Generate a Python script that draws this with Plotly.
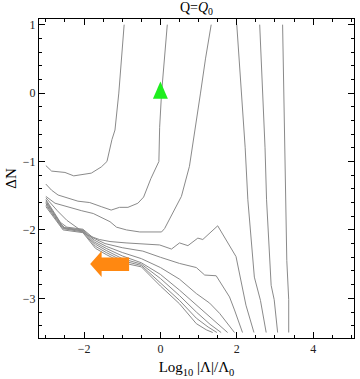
import plotly.graph_objects as go

# contour lines (x = log10 |Lambda|/Lambda0, y = Delta N)
a_x = [-0.95, -1.02, -1.09, -1.19, -1.27, -1.40, -1.55, -1.81, -2.05, -2.27, -2.50, -2.85, -3.0]
a_y = [1.0, 0.5, 0.0, -0.54, -0.68, -1.0, -1.08, -1.17, -1.19, -1.21, -1.16, -1.14, -1.06]

b_x = [0.18, 0.10, 0.03, -0.02, -0.04, -0.25, -0.44, -0.59, -0.85, -1.07, -1.29, -1.55, -1.85, -2.16, -2.33, -2.68, -2.85, -3.0]
b_y = [1.0, 0.5, 0.0, -0.5, -1.0, -1.25, -1.52, -1.61, -1.67, -1.67, -1.71, -1.66, -1.60, -1.58, -1.55, -1.49, -1.42, -1.33]

c_x = [1.33, 1.18, 1.05, 0.89, 0.76, 0.55, 0.11, 0.03, -0.54, -0.89, -1.15, -1.32, -1.76, -2.06, -2.50, -2.76, -3.0]
c_y = [1.0, 0.5, 0.0, -0.58, -1.07, -1.51, -1.98, -2.03, -2.03, -2.0, -1.96, -1.88, -1.76, -1.72, -1.65, -1.61, -1.51]

d_x = [-3.0, -2.7, -2.45, -2.2, -1.9, -1.6, -1.32, -0.9, -0.4, -0.02, 0.29, 0.50, 0.72, 0.98, 1.11, 1.50, 1.98, 2.07, 2.24, 2.45]
d_y = [-1.53, -1.72, -1.86, -1.96, -2.08, -2.14, -2.17, -2.19, -2.21, -2.22, -2.28, -2.19, -2.23, -2.12, -2.14, -1.94, -2.39, -2.64, -3.10, -3.5]

l1_x = [-3.0, -2.62, -2.45, -2.03, -1.75, -1.45, -1.0, -0.46, 0.0, 0.5, 0.94, 1.16, 1.46, 1.81, 1.94, 2.15]
l1_y = [-1.555, -1.89, -1.96, -1.99, -2.12, -2.20, -2.26, -2.31, -2.40, -2.49, -2.55, -2.66, -2.67, -2.98, -3.17, -3.5]

l2_x = [-3.0, -2.6, -2.5, -2.03, -1.73, -1.42, -1.0, -0.5, 0.0, 0.5, 0.94, 1.29, 1.55, 1.94]
l2_y = [-1.575, -1.92, -1.97, -2.0, -2.15, -2.24, -2.33, -2.42, -2.55, -2.72, -2.93, -3.07, -3.22, -3.5]

l3_x = [-3.0, -2.58, -2.52, -2.03, -1.72, -1.42, -1.0, -0.5, 0.0, 0.5, 0.94, 1.3, 1.76]
l3_y = [-1.595, -1.94, -1.98, -2.01, -2.18, -2.27, -2.38, -2.48, -2.65, -2.88, -3.10, -3.27, -3.5]

l4_x = [-3.0, -2.57, -2.03, -1.7, -1.42, -1.0, -0.5, 0.0, 0.5, 0.94, 1.3, 1.59]
l4_y = [-1.615, -1.96, -2.02, -2.21, -2.30, -2.42, -2.50, -2.71, -2.96, -3.2, -3.38, -3.5]

l5_x = [-3.0, -2.56, -2.03, -1.7, -1.42, -1.0, -0.5, 0.0, 0.5, 0.94, 1.25, 1.48]
l5_y = [-1.635, -1.98, -2.03, -2.24, -2.33, -2.45, -2.52, -2.77, -3.03, -3.29, -3.42, -3.5]

l6_x = [-3.0, -2.55, -2.03, -1.7, -1.42, -1.0, -0.5, 0.0, 0.5, 0.94, 1.2, 1.37]
l6_y = [-1.66, -2.0, -2.04, -2.27, -2.36, -2.48, -2.54, -2.82, -3.08, -3.37, -3.46, -3.5]

e1_x = [2.0, 2.12, 2.22, 2.29, 2.37, 2.46, 2.62, 2.77]
e1_y = [1.0, 0.0, -0.8, -1.56, -2.15, -2.69, -3.03, -3.5]

e2_x = [2.6, 2.68, 2.74, 2.78, 2.85, 2.9, 2.98, 3.07]
e2_y = [1.0, 0.0, -0.8, -1.56, -2.29, -2.81, -3.02, -3.5]

e3_x = [3.2, 3.23, 3.26, 3.29, 3.31, 3.36, 3.36]
e3_y = [1.0, 0.0, -0.8, -1.56, -2.45, -3.02, -3.5]

contours = [(a_x, a_y), (b_x, b_y), (c_x, c_y), (d_x, d_y), (l1_x, l1_y), (l2_x, l2_y),
            (l3_x, l3_y), (l4_x, l4_y), (l5_x, l5_y), (l6_x, l6_y),
            (e1_x, e1_y), (e2_x, e2_y), (e3_x, e3_y)]

# markers: green triangle at (0, 0) and orange arrow pointing left
tri_x = [-0.196, 0.0, 0.196, -0.196]
tri_y = [-0.083, 0.17, -0.083, -0.083]
arrow_x = [-1.84, -1.54, -1.54, -0.82, -0.82, -1.54, -1.54, -1.84]
arrow_y = [-2.50, -2.31, -2.405, -2.405, -2.60, -2.60, -2.69, -2.50]

fig = go.Figure()
for cx, cy in contours:
    fig.add_trace(go.Scatter(x=cx, y=cy, mode='lines', line=dict(color='#8a8a8a', width=1),
                             hoverinfo='skip', showlegend=False))

fig.add_trace(go.Scatter(x=tri_x, y=tri_y, mode='lines', fill='toself', fillcolor='#1EEE1E',
                         line=dict(color='#1EEE1E', width=0), hoverinfo='skip', showlegend=False))
fig.add_trace(go.Scatter(x=arrow_x, y=arrow_y, mode='lines', fill='toself', fillcolor='#FF8811',
                         line=dict(color='#FF8811', width=0), hoverinfo='skip', showlegend=False))

font = "Liberation Serif, Times New Roman, serif"
axis = dict(showgrid=False, zeroline=False, showline=True, linecolor='black', linewidth=1,
            mirror='ticks', ticks='inside', ticklen=6, tickcolor='black', automargin=False,
            tickfont=dict(family=font, size=12, color='#222'))

fig.update_layout(
    width=360, height=379,
    margin=dict(l=39, r=6, t=19, b=41),
    plot_bgcolor='white', paper_bgcolor='white',
    title=dict(text='Q=<i>Q</i><sub>0</sub>', xref='paper', x=0.5, xanchor='center',
               yref='container', y=0.993, yanchor='top',
               font=dict(family=font, size=14, color='black')),
    xaxis=dict(axis, range=[-3.18, 5.07], tickvals=[-2, 0, 2, 4], ticktext=['\u22122', '0', '2', '4'],
               minor=dict(ticks='inside', dtick=0.5, ticklen=3, tickcolor='black'),
               title=dict(text='Log<sub>10</sub> |\u039b|/\u039b<sub>0</sub>', standoff=6,
                          font=dict(family=font, size=15, color='black'))),
    yaxis=dict(axis, range=[-3.58, 1.083], tickvals=[1, 0, -1, -2, -3],
               ticktext=['1', '0', '\u22121', '\u22122', '\u22123'],
               minor=dict(ticks='inside', dtick=0.2, ticklen=3, tickcolor='black'),
               title=dict(text='\u0394N', standoff=2, font=dict(family=font, size=15, color='black'))),
)

# the page's default body margin would shift the figure by 8px
fig.write_html("out.html", config={'displayModeBar': False},
               post_script="document.body.style.margin='0';")
